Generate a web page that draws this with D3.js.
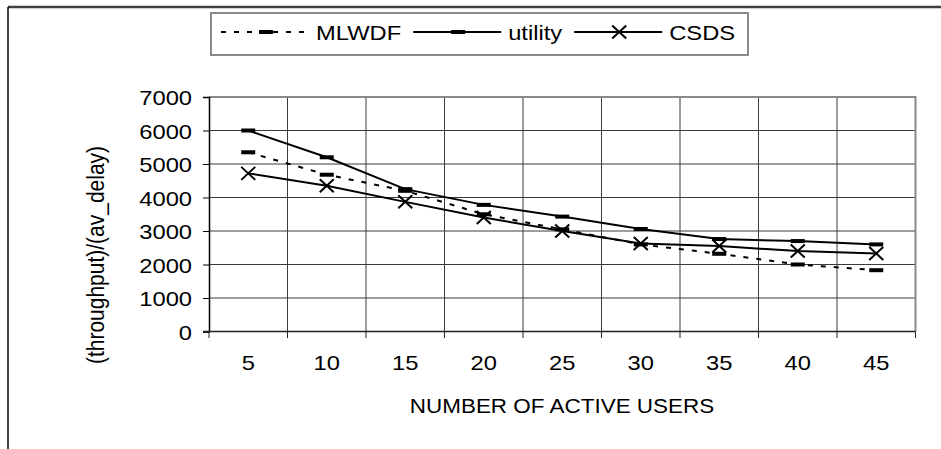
<!DOCTYPE html>
<html>
<head>
<meta charset="utf-8">
<script src="https://cdn.jsdelivr.net/npm/d3@7"></script>
<style>
  body { margin: 0; background: #fff; }
  svg text { font-family: "Liberation Sans", Arial, sans-serif; fill: #000; }
</style>
</head>
<body>
<div id="chart"></div>
<script>
// data
var users = [5, 10, 15, 20, 25, 30, 35, 40, 45];
var mlwdf = [5350, 4680, 4200, 3500, 3050, 2600, 2320, 2000, 1830];
var utility = [6000, 5200, 4250, 3780, 3430, 3060, 2760, 2700, 2600];
var csds = [4720, 4350, 3870, 3400, 3000, 2630, 2550, 2400, 2330];
var yTicks = [0, 1000, 2000, 3000, 4000, 5000, 6000, 7000];
var seriesNames = ["MLWDF", "utility", "CSDS"];

var width = 941, height = 449;
var stretchK = 1.13; // the picture's text is a bit wide

var svg = d3.select("#chart").append("svg")
  .attr("width", width)
  .attr("height", height);

// outer frame (top and left only)
svg.append("line").attr("x1", 8).attr("x2", width).attr("y1", 7).attr("y2", 7)
  .attr("stroke", "#404040").attr("stroke-width", 2.5);
svg.append("line").attr("x1", 8).attr("x2", 8).attr("y1", 7).attr("y2", height)
  .attr("stroke", "#000").attr("stroke-width", 1.5);

var x = d3.scaleBand().domain(users).range([209, 915.5]);
var y = d3.scaleLinear().domain([0, 7000]).range([331.5, 97]);

function stretch(sel, k) {
  sel.each(function() {
    var t = d3.select(this);
    var tx = +t.attr("x") || 0;
    t.attr("transform", "translate(" + tx + ",0) scale(" + k + ",1) translate(" + (-tx) + ",0)");
  });
}

// grid
var grid = svg.append("g");
grid.selectAll("line.h")
  .data(yTicks.slice(1, -1))
  .enter().append("line")
    .attr("x1", 209).attr("x2", 915.5)
    .attr("y1", function(d) { return y(d); })
    .attr("y2", function(d) { return y(d); })
    .attr("stroke", "#3a3a3a").attr("stroke-width", 1);
var bounds = d3.range(1, users.length).map(function(i) { return x(users[i]); });
grid.selectAll("line.v")
  .data(bounds)
  .enter().append("line")
    .attr("x1", function(d) { return d; }).attr("x2", function(d) { return d; })
    .attr("y1", 97).attr("y2", 331.5)
    .attr("stroke", "#3a3a3a").attr("stroke-width", 1);

// plot area border top / right
svg.append("path")
  .attr("d", "M209,97H915.5V331.5")
  .attr("fill", "none").attr("stroke", "#8a8a8a").attr("stroke-width", 2);

// y axis
var yAxis = svg.append("g")
  .attr("transform", "translate(209,0)")
  .call(d3.axisLeft(y).tickValues(yTicks).tickSize(6).tickPadding(11).tickFormat(d3.format("d")));
yAxis.select(".domain").attr("stroke", "#000").attr("stroke-width", 1.5);
yAxis.selectAll(".tick line").attr("stroke", "#000");
yAxis.selectAll(".tick text")
  .attr("font-size", 21).attr("font-family", "Liberation Sans, Arial, sans-serif")
  .attr("dy", "0.36em");
stretch(yAxis.selectAll(".tick text"), stretchK);

// x axis: line, ticks between categories, labels centered
var xg = svg.append("g");
xg.append("line").attr("x1", 203).attr("x2", 915.5).attr("y1", 331.5).attr("y2", 331.5)
  .attr("stroke", "#222").attr("stroke-width", 1.5);
xg.selectAll("line.t")
  .data([209].concat(bounds).concat([915.5]))
  .enter().append("line")
    .attr("x1", function(d) { return d; }).attr("x2", function(d) { return d; })
    .attr("y1", 331.5).attr("y2", 338)
    .attr("stroke", "#222").attr("stroke-width", 1);
var xl = xg.selectAll("text")
  .data(users)
  .enter().append("text")
    .attr("x", function(d) { return x(d) + x.bandwidth() / 2; })
    .attr("y", 370)
    .attr("text-anchor", "middle")
    .attr("font-size", 21)
    .text(function(d) { return d; });
stretch(xl, stretchK);

// axis titles
var xt = svg.append("text")
  .attr("x", 562).attr("y", 413)
  .attr("text-anchor", "middle")
  .attr("font-size", 21)
  .text("NUMBER OF ACTIVE USERS");
stretch(xt, 1.07);

svg.append("text")
  .attr("transform", "translate(104,255) scale(" + stretchK + ",1) rotate(-90)")
  .attr("text-anchor", "middle")
  .attr("font-size", 21)
  .text("(throughput)/(av_delay)");

// series
var cx = function(i) { return x(users[i]) + x.bandwidth() / 2; };
var line = d3.line()
  .x(function(d, i) { return cx(i); })
  .y(function(d) { return y(d); });

var styles = [
  {dash: "5,8", marker: "bar"},
  {dash: null, marker: "bar"},
  {dash: null, marker: "x"}
];
var allSeries = [mlwdf, utility, csds];

function drawMarker(g, type, px, py) {
  if (type == "bar") {
    g.append("rect")
      .attr("x", px - 7).attr("y", py - 2)
      .attr("width", 14).attr("height", 4)
      .attr("fill", "#000");
  } else {
    g.append("path")
      .attr("d", "M" + (px - 7) + "," + (py - 6.5) + "L" + (px + 7) + "," + (py + 6.5) +
                 "M" + (px - 7) + "," + (py + 6.5) + "L" + (px + 7) + "," + (py - 6.5))
      .attr("stroke", "#000").attr("stroke-width", 2).attr("fill", "none");
  }
}

allSeries.forEach(function(vals, s) {
  var g = svg.append("g");
  g.append("path")
    .datum(vals)
    .attr("d", line)
    .attr("fill", "none")
    .attr("stroke", "#000")
    .attr("stroke-width", 2)
    .attr("stroke-dasharray", styles[s].dash);
  vals.forEach(function(v, i) { drawMarker(g, styles[s].marker, cx(i), y(v)); });
});

// legend
var leg = svg.append("g");
leg.append("rect")
  .attr("x", 211).attr("y", 13).attr("width", 537).attr("height", 42)
  .attr("fill", "#fff").attr("stroke", "#8a8a8a").attr("stroke-width", 2);
var lx = 221, ly = 32;
seriesNames.forEach(function(name, s) {
  leg.append("line")
    .attr("x1", lx).attr("x2", lx + 88).attr("y1", ly).attr("y2", ly)
    .attr("stroke", "#000").attr("stroke-width", 2)
    .attr("stroke-dasharray", styles[s].dash);
  drawMarker(leg, styles[s].marker, lx + 45, ly);
  var t = leg.append("text")
    .attr("x", lx + 95).attr("y", ly)
    .attr("dy", "0.36em")
    .attr("font-size", 21)
    .text(name);
  stretch(t, stretchK);
  lx = lx + 95 + t.node().getComputedTextLength() * stretchK + 12;
});
</script>
</body>
</html>
